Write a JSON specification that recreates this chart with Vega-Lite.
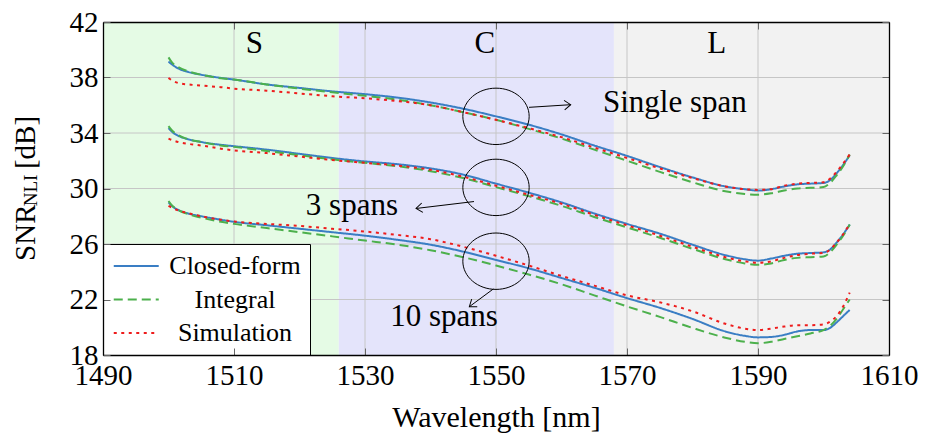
{
  "$schema": "https://vega.github.io/schema/vega-lite/v6.json",
  "width": 786,
  "height": 333,
  "autosize": {"type": "none"},
  "padding": {"left": 103, "top": 22, "right": 36, "bottom": 84},
  "background": "white",
  "config": {
    "view": {"stroke": null},
    "font": "Liberation Serif",
    "legend": {
      "orient": "none",
      "legendX": 0,
      "legendY": 222,
      "fillColor": "white",
      "strokeColor": "black",
      "padding": 9,
      "rowPadding": 7.5,
      "cornerRadius": 0,
      "labelFont": "Liberation Serif",
      "labelFontSize": 26,
      "labelColor": "black",
      "labelAlign": "center",
      "labelOffset": 97,
      "symbolType": "M -1 0 L 3 0",
      "symbolSize": 506,
      "symbolStrokeWidth": 2.5
    }
  },
  "datasets": {
    "bands": [
      {"x": 1490, "x2": 1526, "band": "S"},
      {"x": 1526, "x2": 1568, "band": "C"},
      {"x": 1568, "x2": 1610, "band": "L"}
    ],
    "xgrid": [{"x": 1510}, {"x": 1530}, {"x": 1550}, {"x": 1570}, {"x": 1590}],
    "ygrid": [{"y": 22}, {"y": 26}, {"y": 30}, {"y": 34}, {"y": 38}],
    "curves": [
      {"series":"Closed-form","span":"1","x":1500,"y":39.15},{"series":"Closed-form","span":"1","x":1500.5,"y":38.95},{"series":"Closed-form","span":"1","x":1501.5,"y":38.65},{"series":"Closed-form","span":"1","x":1503,"y":38.4},{"series":"Closed-form","span":"1","x":1505,"y":38.2},{"series":"Closed-form","span":"1","x":1508,"y":37.97},{"series":"Closed-form","span":"1","x":1510,"y":37.85},{"series":"Closed-form","span":"1","x":1515,"y":37.5},{"series":"Closed-form","span":"1","x":1520,"y":37.25},{"series":"Closed-form","span":"1","x":1525,"y":37.0},{"series":"Closed-form","span":"1","x":1530,"y":36.8},{"series":"Closed-form","span":"1","x":1535,"y":36.55},{"series":"Closed-form","span":"1","x":1540,"y":36.2},{"series":"Closed-form","span":"1","x":1545,"y":35.75},{"series":"Closed-form","span":"1","x":1550,"y":35.2},{"series":"Closed-form","span":"1","x":1555,"y":34.6},{"series":"Closed-form","span":"1","x":1560,"y":33.9},{"series":"Closed-form","span":"1","x":1565,"y":33.1},{"series":"Closed-form","span":"1","x":1570,"y":32.35},{"series":"Closed-form","span":"1","x":1575,"y":31.55},{"series":"Closed-form","span":"1","x":1580,"y":30.8},{"series":"Closed-form","span":"1","x":1585,"y":30.15},{"series":"Closed-form","span":"1","x":1588,"y":29.95},{"series":"Closed-form","span":"1","x":1590,"y":29.85},{"series":"Closed-form","span":"1","x":1592,"y":29.95},{"series":"Closed-form","span":"1","x":1594,"y":30.15},{"series":"Closed-form","span":"1","x":1596,"y":30.3},{"series":"Closed-form","span":"1","x":1598,"y":30.35},{"series":"Closed-form","span":"1","x":1600,"y":30.4},{"series":"Closed-form","span":"1","x":1601,"y":30.6},{"series":"Closed-form","span":"1","x":1602,"y":31.1},{"series":"Closed-form","span":"1","x":1603,"y":31.7},{"series":"Closed-form","span":"1","x":1604,"y":32.4},

      {"series":"Integral","span":"1","x":1500,"y":39.45},{"series":"Integral","span":"1","x":1500.5,"y":39.1},{"series":"Integral","span":"1","x":1501.5,"y":38.75},{"series":"Integral","span":"1","x":1503,"y":38.45},{"series":"Integral","span":"1","x":1505,"y":38.2},{"series":"Integral","span":"1","x":1508,"y":37.95},{"series":"Integral","span":"1","x":1510,"y":37.85},{"series":"Integral","span":"1","x":1515,"y":37.5},{"series":"Integral","span":"1","x":1520,"y":37.2},{"series":"Integral","span":"1","x":1525,"y":36.93},{"series":"Integral","span":"1","x":1530,"y":36.68},{"series":"Integral","span":"1","x":1535,"y":36.4},{"series":"Integral","span":"1","x":1540,"y":36.0},{"series":"Integral","span":"1","x":1545,"y":35.5},{"series":"Integral","span":"1","x":1550,"y":34.95},{"series":"Integral","span":"1","x":1555,"y":34.3},{"series":"Integral","span":"1","x":1560,"y":33.6},{"series":"Integral","span":"1","x":1565,"y":32.8},{"series":"Integral","span":"1","x":1570,"y":32.0},{"series":"Integral","span":"1","x":1575,"y":31.2},{"series":"Integral","span":"1","x":1580,"y":30.45},{"series":"Integral","span":"1","x":1585,"y":29.8},{"series":"Integral","span":"1","x":1588,"y":29.6},{"series":"Integral","span":"1","x":1590,"y":29.55},{"series":"Integral","span":"1","x":1592,"y":29.65},{"series":"Integral","span":"1","x":1594,"y":29.85},{"series":"Integral","span":"1","x":1596,"y":30.0},{"series":"Integral","span":"1","x":1598,"y":30.05},{"series":"Integral","span":"1","x":1600,"y":30.1},{"series":"Integral","span":"1","x":1601,"y":30.4},{"series":"Integral","span":"1","x":1602,"y":30.95},{"series":"Integral","span":"1","x":1603,"y":31.6},{"series":"Integral","span":"1","x":1604,"y":32.45},

      {"series":"Simulation","span":"1","x":1500,"y":37.97},{"series":"Simulation","span":"1","x":1500.5,"y":37.8},{"series":"Simulation","span":"1","x":1501.5,"y":37.6},{"series":"Simulation","span":"1","x":1503,"y":37.5},{"series":"Simulation","span":"1","x":1505,"y":37.42},{"series":"Simulation","span":"1","x":1508,"y":37.3},{"series":"Simulation","span":"1","x":1510,"y":37.2},{"series":"Simulation","span":"1","x":1515,"y":37.05},{"series":"Simulation","span":"1","x":1520,"y":36.85},{"series":"Simulation","span":"1","x":1525,"y":36.65},{"series":"Simulation","span":"1","x":1530,"y":36.5},{"series":"Simulation","span":"1","x":1535,"y":36.3},{"series":"Simulation","span":"1","x":1540,"y":36.0},{"series":"Simulation","span":"1","x":1545,"y":35.5},{"series":"Simulation","span":"1","x":1550,"y":34.95},{"series":"Simulation","span":"1","x":1555,"y":34.35},{"series":"Simulation","span":"1","x":1560,"y":33.7},{"series":"Simulation","span":"1","x":1565,"y":32.95},{"series":"Simulation","span":"1","x":1570,"y":32.2},{"series":"Simulation","span":"1","x":1575,"y":31.45},{"series":"Simulation","span":"1","x":1580,"y":30.75},{"series":"Simulation","span":"1","x":1585,"y":30.15},{"series":"Simulation","span":"1","x":1588,"y":29.95},{"series":"Simulation","span":"1","x":1590,"y":29.9},{"series":"Simulation","span":"1","x":1592,"y":29.95},{"series":"Simulation","span":"1","x":1594,"y":30.2},{"series":"Simulation","span":"1","x":1596,"y":30.35},{"series":"Simulation","span":"1","x":1598,"y":30.4},{"series":"Simulation","span":"1","x":1600,"y":30.45},{"series":"Simulation","span":"1","x":1601,"y":30.7},{"series":"Simulation","span":"1","x":1602,"y":31.2},{"series":"Simulation","span":"1","x":1603,"y":31.8},{"series":"Simulation","span":"1","x":1604,"y":32.45},

      {"series":"Closed-form","span":"3","x":1500,"y":34.35},{"series":"Closed-form","span":"3","x":1500.5,"y":34.1},{"series":"Closed-form","span":"3","x":1501.5,"y":33.8},{"series":"Closed-form","span":"3","x":1503,"y":33.55},{"series":"Closed-form","span":"3","x":1505,"y":33.35},{"series":"Closed-form","span":"3","x":1508,"y":33.15},{"series":"Closed-form","span":"3","x":1510,"y":33.05},{"series":"Closed-form","span":"3","x":1515,"y":32.8},{"series":"Closed-form","span":"3","x":1520,"y":32.5},{"series":"Closed-form","span":"3","x":1525,"y":32.2},{"series":"Closed-form","span":"3","x":1530,"y":31.95},{"series":"Closed-form","span":"3","x":1535,"y":31.75},{"series":"Closed-form","span":"3","x":1540,"y":31.45},{"series":"Closed-form","span":"3","x":1545,"y":31.0},{"series":"Closed-form","span":"3","x":1550,"y":30.35},{"series":"Closed-form","span":"3","x":1555,"y":29.7},{"series":"Closed-form","span":"3","x":1560,"y":29.0},{"series":"Closed-form","span":"3","x":1565,"y":28.2},{"series":"Closed-form","span":"3","x":1570,"y":27.45},{"series":"Closed-form","span":"3","x":1575,"y":26.75},{"series":"Closed-form","span":"3","x":1580,"y":25.95},{"series":"Closed-form","span":"3","x":1585,"y":25.2},{"series":"Closed-form","span":"3","x":1588,"y":24.9},{"series":"Closed-form","span":"3","x":1590,"y":24.8},{"series":"Closed-form","span":"3","x":1592,"y":24.95},{"series":"Closed-form","span":"3","x":1594,"y":25.15},{"series":"Closed-form","span":"3","x":1596,"y":25.3},{"series":"Closed-form","span":"3","x":1598,"y":25.35},{"series":"Closed-form","span":"3","x":1600,"y":25.4},{"series":"Closed-form","span":"3","x":1601,"y":25.6},{"series":"Closed-form","span":"3","x":1602,"y":26.1},{"series":"Closed-form","span":"3","x":1603,"y":26.7},{"series":"Closed-form","span":"3","x":1604,"y":27.4},

      {"series":"Integral","span":"3","x":1500,"y":34.5},{"series":"Integral","span":"3","x":1500.5,"y":34.2},{"series":"Integral","span":"3","x":1501.5,"y":33.85},{"series":"Integral","span":"3","x":1503,"y":33.55},{"series":"Integral","span":"3","x":1505,"y":33.35},{"series":"Integral","span":"3","x":1508,"y":33.1},{"series":"Integral","span":"3","x":1510,"y":33.0},{"series":"Integral","span":"3","x":1515,"y":32.7},{"series":"Integral","span":"3","x":1520,"y":32.4},{"series":"Integral","span":"3","x":1525,"y":32.1},{"series":"Integral","span":"3","x":1530,"y":31.85},{"series":"Integral","span":"3","x":1535,"y":31.6},{"series":"Integral","span":"3","x":1540,"y":31.25},{"series":"Integral","span":"3","x":1545,"y":30.75},{"series":"Integral","span":"3","x":1550,"y":30.1},{"series":"Integral","span":"3","x":1555,"y":29.45},{"series":"Integral","span":"3","x":1560,"y":28.75},{"series":"Integral","span":"3","x":1565,"y":27.95},{"series":"Integral","span":"3","x":1570,"y":27.2},{"series":"Integral","span":"3","x":1575,"y":26.45},{"series":"Integral","span":"3","x":1580,"y":25.65},{"series":"Integral","span":"3","x":1585,"y":24.9},{"series":"Integral","span":"3","x":1588,"y":24.6},{"series":"Integral","span":"3","x":1590,"y":24.5},{"series":"Integral","span":"3","x":1592,"y":24.6},{"series":"Integral","span":"3","x":1594,"y":24.85},{"series":"Integral","span":"3","x":1596,"y":25.0},{"series":"Integral","span":"3","x":1598,"y":25.05},{"series":"Integral","span":"3","x":1600,"y":25.1},{"series":"Integral","span":"3","x":1601,"y":25.4},{"series":"Integral","span":"3","x":1602,"y":25.95},{"series":"Integral","span":"3","x":1603,"y":26.6},{"series":"Integral","span":"3","x":1604,"y":27.4},

      {"series":"Simulation","span":"3","x":1500,"y":33.6},{"series":"Simulation","span":"3","x":1500.5,"y":33.5},{"series":"Simulation","span":"3","x":1501.5,"y":33.35},{"series":"Simulation","span":"3","x":1503,"y":33.22},{"series":"Simulation","span":"3","x":1505,"y":33.1},{"series":"Simulation","span":"3","x":1508,"y":32.87},{"series":"Simulation","span":"3","x":1510,"y":32.75},{"series":"Simulation","span":"3","x":1515,"y":32.55},{"series":"Simulation","span":"3","x":1520,"y":32.3},{"series":"Simulation","span":"3","x":1525,"y":32.05},{"series":"Simulation","span":"3","x":1530,"y":31.85},{"series":"Simulation","span":"3","x":1535,"y":31.65},{"series":"Simulation","span":"3","x":1540,"y":31.35},{"series":"Simulation","span":"3","x":1545,"y":30.85},{"series":"Simulation","span":"3","x":1550,"y":30.2},{"series":"Simulation","span":"3","x":1555,"y":29.55},{"series":"Simulation","span":"3","x":1560,"y":28.9},{"series":"Simulation","span":"3","x":1565,"y":28.1},{"series":"Simulation","span":"3","x":1570,"y":27.35},{"series":"Simulation","span":"3","x":1575,"y":26.6},{"series":"Simulation","span":"3","x":1580,"y":25.8},{"series":"Simulation","span":"3","x":1585,"y":25.05},{"series":"Simulation","span":"3","x":1588,"y":24.75},{"series":"Simulation","span":"3","x":1590,"y":24.65},{"series":"Simulation","span":"3","x":1592,"y":24.75},{"series":"Simulation","span":"3","x":1594,"y":25.0},{"series":"Simulation","span":"3","x":1596,"y":25.2},{"series":"Simulation","span":"3","x":1598,"y":25.3},{"series":"Simulation","span":"3","x":1600,"y":25.35},{"series":"Simulation","span":"3","x":1601,"y":25.6},{"series":"Simulation","span":"3","x":1602,"y":26.1},{"series":"Simulation","span":"3","x":1603,"y":26.7},{"series":"Simulation","span":"3","x":1604,"y":27.45},

      {"series":"Closed-form","span":"10","x":1500,"y":29.0},{"series":"Closed-form","span":"10","x":1500.5,"y":28.75},{"series":"Closed-form","span":"10","x":1501.5,"y":28.45},{"series":"Closed-form","span":"10","x":1503,"y":28.2},{"series":"Closed-form","span":"10","x":1505,"y":28.0},{"series":"Closed-form","span":"10","x":1508,"y":27.75},{"series":"Closed-form","span":"10","x":1510,"y":27.6},{"series":"Closed-form","span":"10","x":1515,"y":27.35},{"series":"Closed-form","span":"10","x":1520,"y":27.1},{"series":"Closed-form","span":"10","x":1525,"y":26.85},{"series":"Closed-form","span":"10","x":1530,"y":26.6},{"series":"Closed-form","span":"10","x":1535,"y":26.3},{"series":"Closed-form","span":"10","x":1540,"y":25.95},{"series":"Closed-form","span":"10","x":1545,"y":25.45},{"series":"Closed-form","span":"10","x":1550,"y":24.85},{"series":"Closed-form","span":"10","x":1555,"y":24.25},{"series":"Closed-form","span":"10","x":1560,"y":23.55},{"series":"Closed-form","span":"10","x":1565,"y":22.85},{"series":"Closed-form","span":"10","x":1570,"y":22.1},{"series":"Closed-form","span":"10","x":1575,"y":21.4},{"series":"Closed-form","span":"10","x":1580,"y":20.6},{"series":"Closed-form","span":"10","x":1585,"y":19.7},{"series":"Closed-form","span":"10","x":1588,"y":19.38},{"series":"Closed-form","span":"10","x":1590,"y":19.27},{"series":"Closed-form","span":"10","x":1592,"y":19.3},{"series":"Closed-form","span":"10","x":1594,"y":19.45},{"series":"Closed-form","span":"10","x":1596,"y":19.7},{"series":"Closed-form","span":"10","x":1598,"y":19.8},{"series":"Closed-form","span":"10","x":1600,"y":19.8},{"series":"Closed-form","span":"10","x":1601,"y":19.95},{"series":"Closed-form","span":"10","x":1602,"y":20.35},{"series":"Closed-form","span":"10","x":1603,"y":20.8},{"series":"Closed-form","span":"10","x":1604,"y":21.25},

      {"series":"Integral","span":"10","x":1500,"y":29.1},{"series":"Integral","span":"10","x":1500.5,"y":28.8},{"series":"Integral","span":"10","x":1501.5,"y":28.45},{"series":"Integral","span":"10","x":1503,"y":28.15},{"series":"Integral","span":"10","x":1505,"y":27.9},{"series":"Integral","span":"10","x":1508,"y":27.6},{"series":"Integral","span":"10","x":1510,"y":27.45},{"series":"Integral","span":"10","x":1515,"y":27.15},{"series":"Integral","span":"10","x":1520,"y":26.85},{"series":"Integral","span":"10","x":1525,"y":26.55},{"series":"Integral","span":"10","x":1530,"y":26.25},{"series":"Integral","span":"10","x":1535,"y":25.95},{"series":"Integral","span":"10","x":1540,"y":25.55},{"series":"Integral","span":"10","x":1545,"y":25.05},{"series":"Integral","span":"10","x":1550,"y":24.45},{"series":"Integral","span":"10","x":1555,"y":23.8},{"series":"Integral","span":"10","x":1560,"y":23.1},{"series":"Integral","span":"10","x":1565,"y":22.3},{"series":"Integral","span":"10","x":1570,"y":21.5},{"series":"Integral","span":"10","x":1575,"y":20.75},{"series":"Integral","span":"10","x":1580,"y":19.95},{"series":"Integral","span":"10","x":1585,"y":19.25},{"series":"Integral","span":"10","x":1588,"y":18.95},{"series":"Integral","span":"10","x":1590,"y":18.85},{"series":"Integral","span":"10","x":1592,"y":18.95},{"series":"Integral","span":"10","x":1594,"y":19.15},{"series":"Integral","span":"10","x":1596,"y":19.35},{"series":"Integral","span":"10","x":1598,"y":19.55},{"series":"Integral","span":"10","x":1600,"y":19.8},{"series":"Integral","span":"10","x":1601,"y":20.1},{"series":"Integral","span":"10","x":1602,"y":20.6},{"series":"Integral","span":"10","x":1603,"y":21.3},{"series":"Integral","span":"10","x":1604,"y":22.0},

      {"series":"Simulation","span":"10","x":1500,"y":28.75},{"series":"Simulation","span":"10","x":1500.5,"y":28.62},{"series":"Simulation","span":"10","x":1501.5,"y":28.42},{"series":"Simulation","span":"10","x":1503,"y":28.22},{"series":"Simulation","span":"10","x":1505,"y":28.0},{"series":"Simulation","span":"10","x":1508,"y":27.75},{"series":"Simulation","span":"10","x":1510,"y":27.62},{"series":"Simulation","span":"10","x":1515,"y":27.45},{"series":"Simulation","span":"10","x":1520,"y":27.3},{"series":"Simulation","span":"10","x":1525,"y":27.1},{"series":"Simulation","span":"10","x":1530,"y":26.9},{"series":"Simulation","span":"10","x":1535,"y":26.65},{"series":"Simulation","span":"10","x":1540,"y":26.35},{"series":"Simulation","span":"10","x":1545,"y":25.8},{"series":"Simulation","span":"10","x":1550,"y":25.15},{"series":"Simulation","span":"10","x":1555,"y":24.45},{"series":"Simulation","span":"10","x":1560,"y":23.7},{"series":"Simulation","span":"10","x":1565,"y":23.0},{"series":"Simulation","span":"10","x":1570,"y":22.3},{"series":"Simulation","span":"10","x":1575,"y":21.8},{"series":"Simulation","span":"10","x":1580,"y":21.15},{"series":"Simulation","span":"10","x":1585,"y":20.25},{"series":"Simulation","span":"10","x":1588,"y":19.9},{"series":"Simulation","span":"10","x":1590,"y":19.8},{"series":"Simulation","span":"10","x":1592,"y":19.9},{"series":"Simulation","span":"10","x":1594,"y":20.05},{"series":"Simulation","span":"10","x":1596,"y":20.15},{"series":"Simulation","span":"10","x":1598,"y":20.15},{"series":"Simulation","span":"10","x":1600,"y":20.2},{"series":"Simulation","span":"10","x":1601,"y":20.4},{"series":"Simulation","span":"10","x":1602,"y":20.8},{"series":"Simulation","span":"10","x":1603,"y":21.5},{"series":"Simulation","span":"10","x":1604,"y":22.5}
    ],
    "ellipses": [{"x": 1550, "y": 35.2}, {"x": 1550, "y": 30.08}, {"x": 1550, "y": 24.76}],
    "arrows": [
      {"x": 1555.04, "y": 35.85, "x2": 1561.4, "y2": 36.04},
      {"x": 1546.64, "y": 29.06, "x2": 1537.79, "y2": 28.56},
      {"x": 1549.59, "y": 22.76, "x2": 1545.93, "y2": 21.48}
    ],
    "labels": [
      {"x": 1513.1, "y": 39.73, "label": "S"},
      {"x": 1548.3, "y": 39.73, "label": "C"},
      {"x": 1583.7, "y": 39.73, "label": "L"},
      {"x": 1577.3, "y": 35.54, "label": "Single span"},
      {"x": 1528.0, "y": 28.1, "label": "3 spans"},
      {"x": 1542.06, "y": 20.11, "label": "10 spans"}
    ],
    "ytitle": [
      {"x": 1479.62, "y": 24.78, "t": "SNR"},
      {"x": 1479.62, "y": 31.4, "t": "[dB]"}
    ],
    "ytitlesub": [
      {"x": 1479.95, "y": 28.72, "t": "NLI"}
    ]
  },
  "resolve": {"axis": {"x": "independent", "y": "independent"}},
  "layer": [
    {
      "data": {"name": "bands"},
      "mark": {"type": "rect"},
      "encoding": {
        "x": {"field": "x", "type": "quantitative", "scale": {"domain": [1490, 1610], "nice": false, "zero": false}, "axis": null},
        "x2": {"field": "x2"},
        "fill": {"field": "band", "type": "nominal", "scale": {"domain": ["S", "C", "L"], "range": ["#e5fbe5", "#e4e4fb", "#f2f2f2"]}, "legend": null}
      }
    },
    {
      "data": {"name": "xgrid"},
      "mark": {"type": "rule", "color": "#c6c6c6", "strokeWidth": 1},
      "encoding": {
        "x": {"field": "x", "type": "quantitative", "scale": {"domain": [1490, 1610], "nice": false, "zero": false},
          "axis": {"orient": "top", "values": [1490, 1510, 1530, 1550, 1570, 1590, 1610], "labels": false, "title": null, "grid": false, "domain": true, "domainColor": "black", "domainWidth": 1.3, "ticks": true, "tickSize": -7, "tickColor": "#666", "tickWidth": 1, "zindex": 1}}
      }
    },
    {
      "data": {"name": "ygrid"},
      "mark": {"type": "rule", "color": "#c6c6c6", "strokeWidth": 1},
      "encoding": {
        "y": {"field": "y", "type": "quantitative", "scale": {"domain": [18, 42], "nice": false, "zero": false},
          "axis": {"orient": "right", "values": [18, 22, 26, 30, 34, 38, 42], "labels": false, "title": null, "grid": false, "domain": true, "domainColor": "black", "domainWidth": 1.3, "ticks": true, "tickSize": -7, "tickColor": "#666", "tickWidth": 1, "zindex": 1}}
      }
    },
    {
      "data": {"name": "curves"},
      "mark": {"type": "line", "interpolate": "monotone"},
      "encoding": {
        "x": {"field": "x", "type": "quantitative", "scale": {"domain": [1490, 1610], "nice": false, "zero": false},
          "axis": {"orient": "bottom", "values": [1490, 1510, 1530, 1550, 1570, 1590, 1610], "format": "d", "labelFont": "Liberation Serif", "labelFontSize": 29, "labelColor": "black", "labelPadding": 13, "labelFlush": false, "labelOverlap": false, "title": "Wavelength [nm]", "titleFont": "Liberation Serif", "titleFontSize": 30, "titleFontWeight": "normal", "titleColor": "black", "titlePadding": 12, "grid": false, "domain": true, "domainColor": "black", "domainWidth": 1.3, "ticks": true, "tickSize": -7, "tickColor": "#666", "tickWidth": 1, "zindex": 1}},
        "y": {"field": "y", "type": "quantitative", "scale": {"domain": [18, 42], "nice": false, "zero": false},
          "axis": {"orient": "left", "values": [18, 22, 26, 30, 34, 38, 42], "labelFont": "Liberation Serif", "labelFontSize": 29, "labelColor": "black", "labelPadding": 12, "labelFlush": false, "labelOverlap": false, "title": null, "grid": false, "domain": true, "domainColor": "black", "domainWidth": 1.3, "ticks": true, "tickSize": -7, "tickColor": "#666", "tickWidth": 1, "zindex": 1}},
        "detail": {"field": "span", "type": "nominal"},
        "color": {"field": "series", "type": "nominal", "title": null, "scale": {"domain": ["Closed-form", "Integral", "Simulation"], "range": ["#3a7ec4", "#4cb04c", "#ee1c1c"]}},
        "strokeDash": {"field": "series", "type": "nominal", "title": null, "scale": {"domain": ["Closed-form", "Integral", "Simulation"], "range": [[1, 0], [9, 5], [3, 4.5]]}},
        "strokeWidth": {"field": "series", "type": "ordinal", "title": null, "scale": {"domain": ["Closed-form", "Integral", "Simulation"], "range": [2, 2, 3.2]}}
      }
    },
    {
      "data": {"name": "ellipses"},
      "mark": {"type": "point", "shape": "M 1 0 C 1 0.4695 0.5523 0.85 0 0.85 C -0.5523 0.85 -1 0.4695 -1 0 C -1 -0.4695 -0.5523 -0.85 0 -0.85 C 0.5523 -0.85 1 -0.4695 1 0 Z", "size": 4400, "filled": false, "stroke": "black", "strokeWidth": 1, "opacity": 1},
      "encoding": {
        "x": {"field": "x", "type": "quantitative", "scale": {"domain": [1490, 1610], "nice": false, "zero": false}, "axis": null},
        "y": {"field": "y", "type": "quantitative", "scale": {"domain": [18, 42], "nice": false, "zero": false}, "axis": null}
      }
    },
    {
      "data": {"name": "arrows"},
      "mark": {"type": "rule", "color": "black", "strokeWidth": 1},
      "encoding": {
        "x": {"field": "x", "type": "quantitative", "scale": {"domain": [1490, 1610], "nice": false, "zero": false}, "axis": null},
        "y": {"field": "y", "type": "quantitative", "scale": {"domain": [18, 42], "nice": false, "zero": false}, "axis": null},
        "x2": {"field": "x2"},
        "y2": {"field": "y2"}
      }
    },
    {
      "data": {"values": [{"x": 1561.4, "y": 36.04}]},
      "mark": {"type": "point", "shape": "M -1 -0.75 L 0 0 L -1 0.75", "size": 160, "filled": false, "stroke": "black", "strokeWidth": 1, "opacity": 1, "angle": 356},
      "encoding": {
        "x": {"field": "x", "type": "quantitative", "scale": {"domain": [1490, 1610], "nice": false, "zero": false}, "axis": null},
        "y": {"field": "y", "type": "quantitative", "scale": {"domain": [18, 42], "nice": false, "zero": false}, "axis": null}
      }
    },
    {
      "data": {"values": [{"x": 1537.79, "y": 28.56}]},
      "mark": {"type": "point", "shape": "M -1 -0.75 L 0 0 L -1 0.75", "size": 160, "filled": false, "stroke": "black", "strokeWidth": 1, "opacity": 1, "angle": 173},
      "encoding": {
        "x": {"field": "x", "type": "quantitative", "scale": {"domain": [1490, 1610], "nice": false, "zero": false}, "axis": null},
        "y": {"field": "y", "type": "quantitative", "scale": {"domain": [18, 42], "nice": false, "zero": false}, "axis": null}
      }
    },
    {
      "data": {"values": [{"x": 1545.93, "y": 21.48}]},
      "mark": {"type": "point", "shape": "M -1 -0.75 L 0 0 L -1 0.75", "size": 160, "filled": false, "stroke": "black", "strokeWidth": 1, "opacity": 1, "angle": 144},
      "encoding": {
        "x": {"field": "x", "type": "quantitative", "scale": {"domain": [1490, 1610], "nice": false, "zero": false}, "axis": null},
        "y": {"field": "y", "type": "quantitative", "scale": {"domain": [18, 42], "nice": false, "zero": false}, "axis": null}
      }
    },
    {
      "data": {"name": "labels"},
      "mark": {"type": "text", "font": "Liberation Serif", "fontSize": 31, "align": "center", "baseline": "alphabetic", "color": "black"},
      "encoding": {
        "x": {"field": "x", "type": "quantitative", "scale": {"domain": [1490, 1610], "nice": false, "zero": false}, "axis": null},
        "y": {"field": "y", "type": "quantitative", "scale": {"domain": [18, 42], "nice": false, "zero": false}, "axis": null},
        "text": {"field": "label"}
      }
    },
    {
      "data": {"name": "ytitle"},
      "mark": {"type": "text", "font": "Liberation Serif", "fontSize": 29, "align": "left", "baseline": "alphabetic", "angle": 270, "color": "black"},
      "encoding": {
        "x": {"field": "x", "type": "quantitative", "scale": {"domain": [1490, 1610], "nice": false, "zero": false}, "axis": null},
        "y": {"field": "y", "type": "quantitative", "scale": {"domain": [18, 42], "nice": false, "zero": false}, "axis": null},
        "text": {"field": "t"}
      }
    },
    {
      "data": {"name": "ytitlesub"},
      "mark": {"type": "text", "font": "Liberation Serif", "fontSize": 19, "align": "left", "baseline": "alphabetic", "angle": 270, "color": "black"},
      "encoding": {
        "x": {"field": "x", "type": "quantitative", "scale": {"domain": [1490, 1610], "nice": false, "zero": false}, "axis": null},
        "y": {"field": "y", "type": "quantitative", "scale": {"domain": [18, 42], "nice": false, "zero": false}, "axis": null},
        "text": {"field": "t"}
      }
    }
  ]
}
